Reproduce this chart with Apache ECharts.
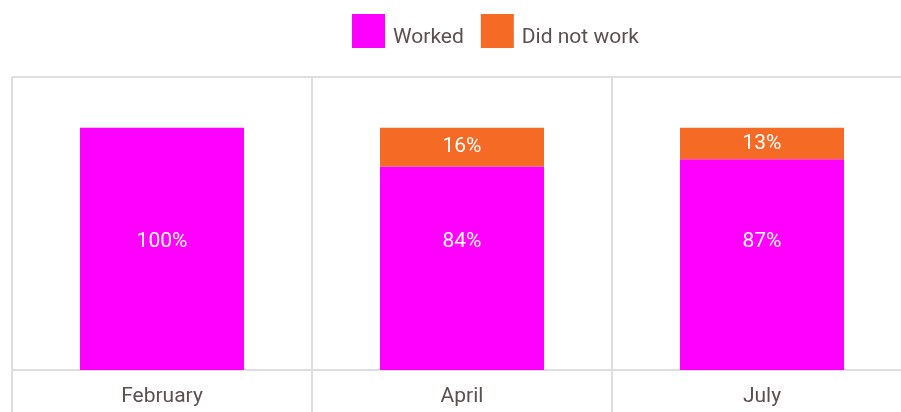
<!DOCTYPE html>
<html>
<head>
<meta charset="UTF-8">
<title></title>
<script src="https://cdn.jsdelivr.net/npm/echarts@6/dist/echarts.min.js"></script>
<style>
  html, body { margin: 0; padding: 0; background: #fff; }
  #main { width: 901px; height: 412px; }
</style>
</head>
<body>
<div id="main"></div>
<script type="text/javascript">
var months = ['February', 'April', 'July'];
var worked = [100, 84, 87];
var didNotWork = [0, 16, 13];

var myChart = echarts.init(document.getElementById('main'));
var textColor = '#5e4f4f';
var lineColor = '#dedede';

var option = {
	textStyle: { fontFamily: 'Roboto' },
	legend: {
		top: 9,
		left: 347,
		itemWidth: 33,
		itemHeight: 34,
		itemGap: 17,
		icon: 'rect',
		formatter: '{t|{name}}',
		textStyle: {
			color: textColor, fontSize: 21, fontFamily: 'Roboto', padding: [0, 0, 0, 3],
			rich: { t: { color: textColor, fontSize: 21, fontFamily: 'Roboto', padding: [14, 0, 0, 0] } }
		},
		data: ['Worked', 'Did not work']
	},
	grid: {
		left: 12,
		width: 900,
		top: 77,
		bottom: 42,
		outerBoundsMode: 'none'
	},
	xAxis: {
		type: 'category',
		data: months,
		axisLine: { lineStyle: { color: lineColor, width: 2 } },
		axisTick: { show: true, length: 45, lineStyle: { color: lineColor, width: 2 } },
		splitLine: { show: true, lineStyle: { color: lineColor, width: 2 } },
		axisLabel: { color: textColor, fontSize: 21, margin: 16, fontFamily: 'Roboto' }
	},
	yAxis: {
		type: 'value',
		min: 0,
		max: 121,
		interval: 121,
		axisLabel: { show: false },
		axisLine: { show: false },
		axisTick: { show: false },
		splitLine: { show: true, lineStyle: { color: lineColor, width: 2 } }
	},
	series: [{
		name: 'Worked',
		type: 'bar',
		stack: 'total',
		barWidth: 164,
		itemStyle: { color: '#ff00ff' },
		label: {
			show: true,
			position: 'insideBottom',
			distance: 118,
			color: '#fff',
			fontSize: 21,
			fontFamily: 'Roboto',
			formatter: function (p) { return p.value + '%'; }
		},
		data: worked
	}, {
		name: 'Did not work',
		type: 'bar',
		stack: 'total',
		itemStyle: { color: '#f56a25' },
		label: {
			show: true,
			position: 'inside',
			color: '#fff',
			fontSize: 21,
			fontFamily: 'Roboto',
			formatter: function (p) { return p.value ? p.value + '%' : ''; }
		},
		data: didNotWork
	}]
};
myChart.setOption(option);
</script>
</body>
</html>
